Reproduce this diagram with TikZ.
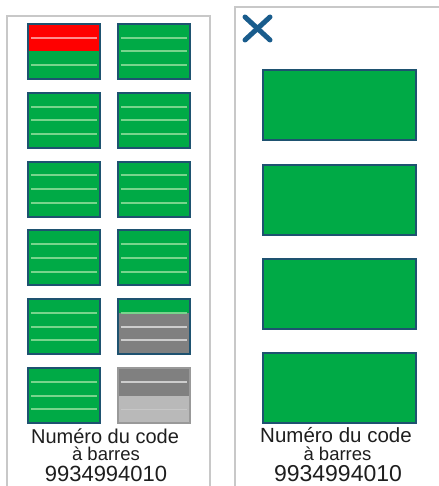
\documentclass[tikz,border=0pt]{standalone}
\usepackage{fontspec}
\setmainfont{Liberation Sans}
\usetikzlibrary{calc}
\definecolor{grn}{RGB}{0,170,70}
\definecolor{bdr}{RGB}{30,82,112}
\definecolor{lin}{RGB}{120,212,140}
\definecolor{pan}{RGB}{200,200,200}
\definecolor{gry}{RGB}{128,128,128}
\definecolor{lgry}{RGB}{185,185,185}
\definecolor{glin}{RGB}{205,205,205}
\definecolor{xcol}{RGB}{25,92,140}
\definecolor{txt}{RGB}{30,30,30}
\newcommand\barline[3]{\draw[#3] ($(#1.north west)!#2!(#1.south west)+(3,0)$) -- ($(#1.north east)!#2!(#1.south east)+(-3,0)$);}
\newcommand\bandfill[4]{\fill[#4] ($(#1.north west)!#2!(#1.south west)+(1,0)$) rectangle ($(#1.north east)!#3!(#1.south east)+(-1,0)$);}
\begin{document}
\begin{tikzpicture}[x=1pt,y=-1pt,
  panel/.style={draw=pan,line width=2pt},
  smallbox/.style={rectangle,draw=bdr,fill=grn,line width=2pt,outer sep=0pt,inner sep=0pt,minimum width=72pt,minimum height=55pt},
  bigbox/.style={rectangle,draw=bdr,fill=grn,line width=2pt,outer sep=0pt,inner sep=0pt,minimum width=153pt,minimum height=70pt},
  ln/.style={draw=lin,line width=2pt},
  gln/.style={draw=glin,line width=2pt},
  lbl/.style={anchor=base,text=txt,inner sep=0pt}]
\useasboundingbox (0,0) rectangle (438,486);
% panels
\coordinate (lpb) at (7,486);
\coordinate (lpt) at (7,16);
\coordinate (lptr) at (210,16);
\coordinate (lpbr) at (210,486);
\draw[panel] (lpb) -- (lpt) -- (lptr) -- (lpbr);
\coordinate (rpb) at (235,486);
\coordinate (rpt) at (235,7);
\coordinate (rptr) at (439,7);
\draw[panel] (rpb) -- (rpt) -- (rptr);
% left boxes
\foreach \r in {0,...,5}{
  \foreach \c/\cx in {1/64,2/153.5}{
    \pgfmathsetmacro{\cy}{24+68.8*\r+27.5}
    \node[smallbox] (b\r\c) at (\cx,\cy) {};
  }
}
% standard green boxes with lines
\foreach \n in {b02,b11,b12,b21,b22,b31,b32,b41,b51}{
  \foreach \f in {0.25,0.5,0.75}{\barline{\n}{\f}{ln}}
}
% box with red top half
\bandfill{b01}{0}{0.5}{red}
\barline{b01}{0.25}{draw=white!55!red,line width=2pt}
\barline{b01}{0.75}{ln}
\draw[bdr,line width=2pt] (b01.north west) rectangle (b01.south east);
% box green top, grey rest
\bandfill{b42}{0.25}{1}{gry}
\barline{b42}{0.25}{ln}
\barline{b42}{0.5}{gln}
\barline{b42}{0.75}{gln}
\draw[bdr,line width=2pt] (b42.north west) rectangle (b42.south east);
% grey box
\fill[gry] (b52.north west) rectangle (b52.east);
\fill[lgry] (b52.west) rectangle (b52.south east);
\barline{b52}{0.25}{gln}
\barline{b52}{0.75}{draw=lgry!80!white,line width=1pt}
\draw[draw=gry!80!white,line width=2pt] (b52.north west) rectangle (b52.south east);
% left labels
\node[lbl,font=\fontsize{20pt}{24pt}\selectfont] (l1) at (105,443) {Numéro du code};
\node[lbl,font=\fontsize{18.5pt}{22pt}\selectfont] (l2) at (106,460) {à barres};
\node[lbl,font=\fontsize{22pt}{26pt}\selectfont] (l3) at (106,481.7) {9934994010};
% right: close icon
\coordinate (x1) at (245,17);
\coordinate (x2) at (270,40);
\coordinate (x3) at (270,17);
\coordinate (x4) at (245,40);
\draw[xcol,line width=5pt,line cap=round] (x1) -- (x2) (x3) -- (x4);
% right boxes
\foreach \i/\t in {1/70,2/165,3/259,4/353}{
  \node[bigbox] (r\i) at (339.5,\t+35) {};
}
% right labels
\node[lbl,font=\fontsize{20.5pt}{25pt}\selectfont] (m1) at (336,442.5) {Numéro du code};
\node[lbl,font=\fontsize{18.5pt}{22pt}\selectfont] (m2) at (337.5,460) {à barres};
\node[lbl,font=\fontsize{23pt}{27pt}\selectfont] (m3) at (338,481.7) {9934994010};
\end{tikzpicture}
\end{document}
